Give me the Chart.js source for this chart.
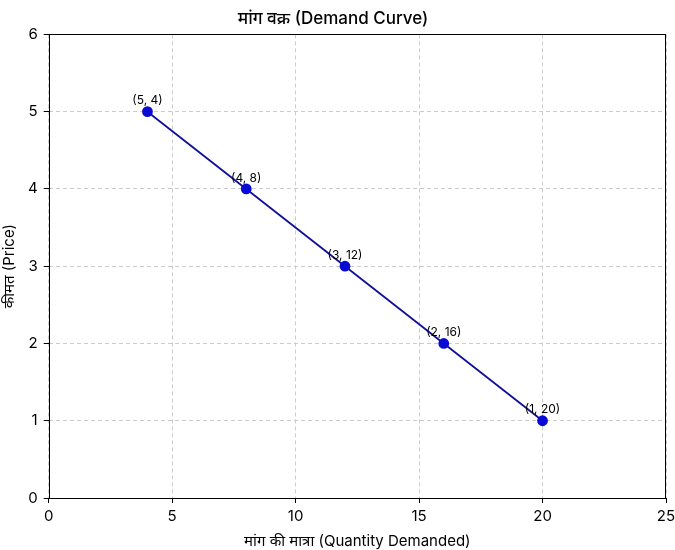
<!DOCTYPE html>
<html>
<head>
<meta charset="utf-8">
<script src="https://cdn.jsdelivr.net/npm/chart.js@4/dist/chart.umd.min.js"></script>
<style>
  body{margin:0;background:#fff;}
</style>
</head>
<body>
<canvas id="myChart" width="675" height="550"></canvas>
<script>
// data
const quantity=[4,8,12,16,20];
const price=[5,4,3,2,1];
const pointLabels=['(5, 4)','(4, 8)','(3, 12)','(2, 16)','(1, 20)'];
const xTicks=[0,5,10,15,20,25];
const yTicks=[0,1,2,3,4,5,6];

const fontFam="Inter, 'Noto Sans', sans-serif";

// box round plot + point labels
const extras={
  id:'extras',
  afterDatasetsDraw(chart){
    const ctx=chart.ctx;
    const a=chart.chartArea;
    const xs=chart.scales.x, ys=chart.scales.y;
    ctx.save();
    ctx.font='12px '+fontFam;
    ctx.fillStyle='#000';
    ctx.textAlign='center';
    ctx.textBaseline='bottom';
    for(let i=0;i<quantity.length;i++){
      ctx.fillText(pointLabels[i],xs.getPixelForValue(quantity[i]),ys.getPixelForValue(price[i])-5);
    }
    ctx.strokeStyle='#000';
    ctx.lineWidth=1;
    ctx.strokeRect(Math.round(a.left)+0.5,Math.round(a.top)+0.5,Math.round(a.right-a.left)-1,Math.round(a.bottom-a.top));
    ctx.restore();
  }
};

const ctx=document.getElementById('myChart');
new Chart(ctx,{
  type:'line',
  data:{
    datasets:[{
      data:quantity.map((q,i)=>({x:q,y:price[i]})),
      borderColor:'#10109a',
      borderWidth:1.8,
      pointBackgroundColor:'#0a0ad6',
      pointBorderColor:'#0a0ad6',
      pointRadius:4.5,
      tension:0
    }]
  },
  plugins:[extras],
  options:{
    responsive:false,
    animation:false,
    layout:{padding:{left:0,right:9,top:0,bottom:0}},
    plugins:{
      legend:{display:false},
      tooltip:{enabled:false},
      title:{
        display:true,
        text:'मांग वक्र (Demand Curve)',
        color:'#000',
        font:{size:17,family:fontFam,weight:'500'},
        padding:{top:9,bottom:5}
      }
    },
    scales:{
      x:{
        type:'linear',
        min:0,max:25,
        afterBuildTicks:(s)=>{s.ticks=xTicks.map(v=>({value:v}));},
        afterFit:(s)=>{s.paddingRight=0;},
        ticks:{color:'#000',font:{size:15,family:fontFam},padding:4,maxRotation:0,autoSkip:false},
        grid:{color:'#cccccc',tickColor:'#000',tickLength:5,lineWidth:1},
        border:{display:false,dash:[4,3]},
        title:{display:true,text:'मांग की मात्रा (Quantity Demanded)',color:'#000',font:{size:15,family:fontFam},padding:{top:3,bottom:0}}
      },
      y:{
        type:'linear',
        min:0,max:6,
        afterBuildTicks:(s)=>{s.ticks=yTicks.map(v=>({value:v}));},
        ticks:{color:'#000',font:{size:15,family:fontFam},padding:6,autoSkip:false},
        grid:{color:'#cccccc',tickColor:'#000',tickLength:5,lineWidth:1},
        border:{display:false,dash:[4,3]},
        title:{display:true,text:'कीमत (Price)',color:'#000',font:{size:15,family:fontFam},padding:{top:0,bottom:4}}
      }
    }
  }
});
</script>
</body>
</html>
